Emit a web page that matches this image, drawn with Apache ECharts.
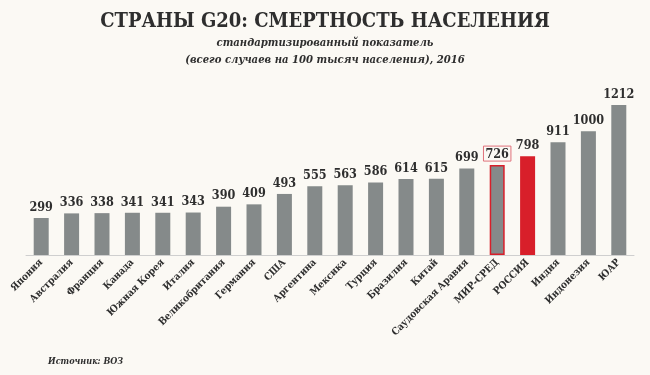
<!DOCTYPE html>
<html><head><meta charset="utf-8">
<script src="https://cdn.jsdelivr.net/npm/echarts@6/dist/echarts.min.js"></script>
<style>html,body{margin:0;padding:0;background:#fbf9f4;}#c{width:650px;height:375px;}</style>
</head><body><div id="c"></div>
<script>
const categories = ["Япония","Австралия","Франция","Канада","Южная Корея","Италия","Великобритания","Германия","США","Аргентина","Мексика","Турция","Бразилия","Китай","Саудовская Аравия","МИР-СРЕД","РОССИЯ","Индия","Индонезия","ЮАР"];
const values = [299,336,338,341,341,343,390,409,493,555,563,586,614,615,699,726,798,911,1000,1212];
const titleText = "СТРАНЫ G20: СМЕРТНОСТЬ НАСЕЛЕНИЯ";
const subText = "стандартизированный показатель\n(всего случаев на 100 тысяч населения), 2016";
const sourceText = "Источник: ВОЗ";

const serifC = "'DejaVu Serif Condensed', 'DejaVu Serif', 'Liberation Serif', serif";
const data = values.map((v, i) => {
  const c = categories[i];
  if (c === "РОССИЯ") return {value: v, itemStyle: {color: '#d81f2a'}};
  if (c === "МИР-СРЕД") return {value: v, itemStyle: {color: '#858a8a', borderColor: '#d81f2a', borderWidth: 1.5},
    label: {borderColor: '#e0707a', borderWidth: 1, padding: [2, 2, 0, 2]}};
  return v;
});
const chart = echarts.init(document.getElementById('c'), null, {renderer: 'canvas'});
chart.setOption({
  backgroundColor: '#fbf9f4',
  animation: false,
  title: {
    text: titleText, subtext: subText, left: 'center', top: 7, itemGap: 3,
    textStyle: {fontFamily: serifC, fontWeight: 'bold', fontSize: 20, color: '#2e2e2e'},
    subtextStyle: {fontFamily: serifC, fontStyle: 'italic', fontWeight: 'bold', fontSize: 11.2, color: '#2e2e2e', lineHeight: 17}
  },
  grid: {left: 26, right: 16, top: 94, bottom: 120},
  xAxis: {
    type: 'category', data: categories,
    axisLine: {lineStyle: {color: '#cfcfcf', width: 1}},
    axisTick: {show: false},
    axisLabel: {rotate: 45, interval: 0, margin: 6, fontFamily: serifC, fontWeight: 'bold', fontSize: 10, color: '#2e2e2e'}
  },
  yAxis: {type: 'value', min: 0, max: 1300, show: false, splitLine: {show: false}},
  series: [{
    type: 'bar', data: data, barWidth: 15,
    itemStyle: {color: '#858a8a'},
    label: {show: true, position: 'top', distance: 4, fontFamily: serifC, fontWeight: 'bold', fontSize: 12.5, color: '#2e2e2e'}
  }],
  graphic: [{
    type: 'text', left: 48, top: 357,
    style: {text: sourceText, fontFamily: serifC, fontStyle: 'italic', fontWeight: 'bold', fontSize: 9, fill: '#2e2e2e'}
  }]
});
</script></body></html>
